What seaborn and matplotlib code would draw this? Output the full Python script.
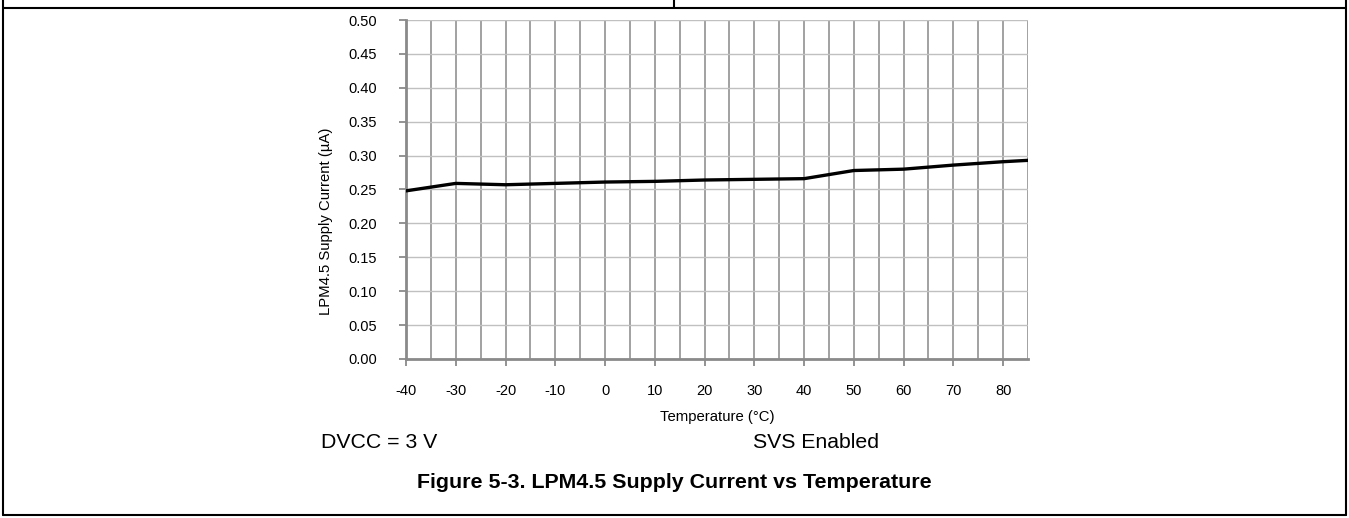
import matplotlib
matplotlib.use("Agg")
import matplotlib.pyplot as plt
from matplotlib.lines import Line2D
from matplotlib.ticker import MultipleLocator, FormatStrFormatter
import seaborn as sns

# ---------------------------------------------------------------------------
# Data
# ---------------------------------------------------------------------------
temperature_c = [-40, -30, -20, -10, 0, 10, 20, 30, 40, 50, 60, 70, 80, 85]
supply_current_ua = [0.248, 0.259, 0.257, 0.259, 0.261, 0.262, 0.264,
                     0.265, 0.266, 0.278, 0.280, 0.286, 0.291, 0.293]

x_label = "Temperature (°C)"
y_label = "LPM4.5 Supply Current (µA)"
cond_left = "DVCC = 3 V"
cond_right = "SVS Enabled"
caption = "Figure 5-3. LPM4.5 Supply Current vs Temperature"

# ---------------------------------------------------------------------------
# Style
# ---------------------------------------------------------------------------
sns.set_style("white")
plt.rcParams["font.family"] = ["Liberation Sans", "DejaVu Sans"]
plt.rcParams["axes.unicode_minus"] = False
plt.rcParams["text.color"] = "black"
plt.rcParams["axes.labelcolor"] = "black"

W, H = 1349, 518
fig = plt.figure(figsize=(W / 100, H / 100), dpi=100)
ax = fig.add_axes([406 / W, 1 - 359 / H, 622 / W, 339 / H])

sns.lineplot(x=temperature_c, y=supply_current_ua, color="black",
             linewidth=2.4, ax=ax, zorder=5)

ax.set_xlim(-40, 85)
ax.set_ylim(0, 0.5)
ax.xaxis.set_major_locator(MultipleLocator(10))
ax.xaxis.set_minor_locator(MultipleLocator(5))
ax.yaxis.set_major_locator(MultipleLocator(0.05))
ax.yaxis.set_major_formatter(FormatStrFormatter("%.2f"))

# grid: darker vertical lines every 5 degC, lighter horizontal lines
ax.grid(True, axis="x", which="both", color="#9a9a9a", linewidth=1.3)
ax.grid(True, axis="y", which="major", color="#c0c0c0", linewidth=1.0)
ax.set_axisbelow(True)

for side in ["top", "right"]:
    ax.spines[side].set_visible(False)
for side in ["left", "bottom"]:
    ax.spines[side].set_color("#8a8a8a")
    ax.spines[side].set_linewidth(2.0)

ax.tick_params(axis="both", which="both", direction="out", length=5,
               width=1.3, color="#8a8a8a", labelsize=10.5, labelcolor="black")
ax.tick_params(axis="y", pad=16)
ax.tick_params(axis="x", which="both", pad=13)
ax.tick_params(left=True, bottom=True)

ax.set_xlabel(x_label, fontsize=10.7, color="black")
ax.set_ylabel(y_label, fontsize=10.7, color="black")
ax.xaxis.set_label_coords(0.5, (359 - 410) / 339)
ax.yaxis.set_label_coords((333 - 406) / 622, (359 - 221) / 339)

# conditions and caption below the chart
fig.text(321 / W, 1 - 443 / H, cond_left, fontsize=15.3, ha="left",
         va="center", color="black")
fig.text(753 / W, 1 - 443 / H, cond_right, fontsize=15.3, ha="left",
         va="center", color="black")
fig.text(0.5, 1 - 483 / H, caption, fontsize=15.4, fontweight="bold",
         ha="center", va="center", color="black")

# document frame around the figure
frame = dict(color="black", linewidth=1.5, transform=fig.transFigure)
fig.add_artist(Line2D([3 / W, 1346 / W], [1 - 8 / H, 1 - 8 / H], **frame))
fig.add_artist(Line2D([3 / W, 1346 / W], [1 - 515 / H, 1 - 515 / H], **frame))
fig.add_artist(Line2D([3 / W, 3 / W], [1 - 515 / H, 1], **frame))
fig.add_artist(Line2D([1346 / W, 1346 / W], [1 - 515 / H, 1], **frame))
fig.add_artist(Line2D([674 / W, 674 / W], [1 - 8 / H, 1], **frame))

fig.savefig("out.png", dpi=100, facecolor="white")
